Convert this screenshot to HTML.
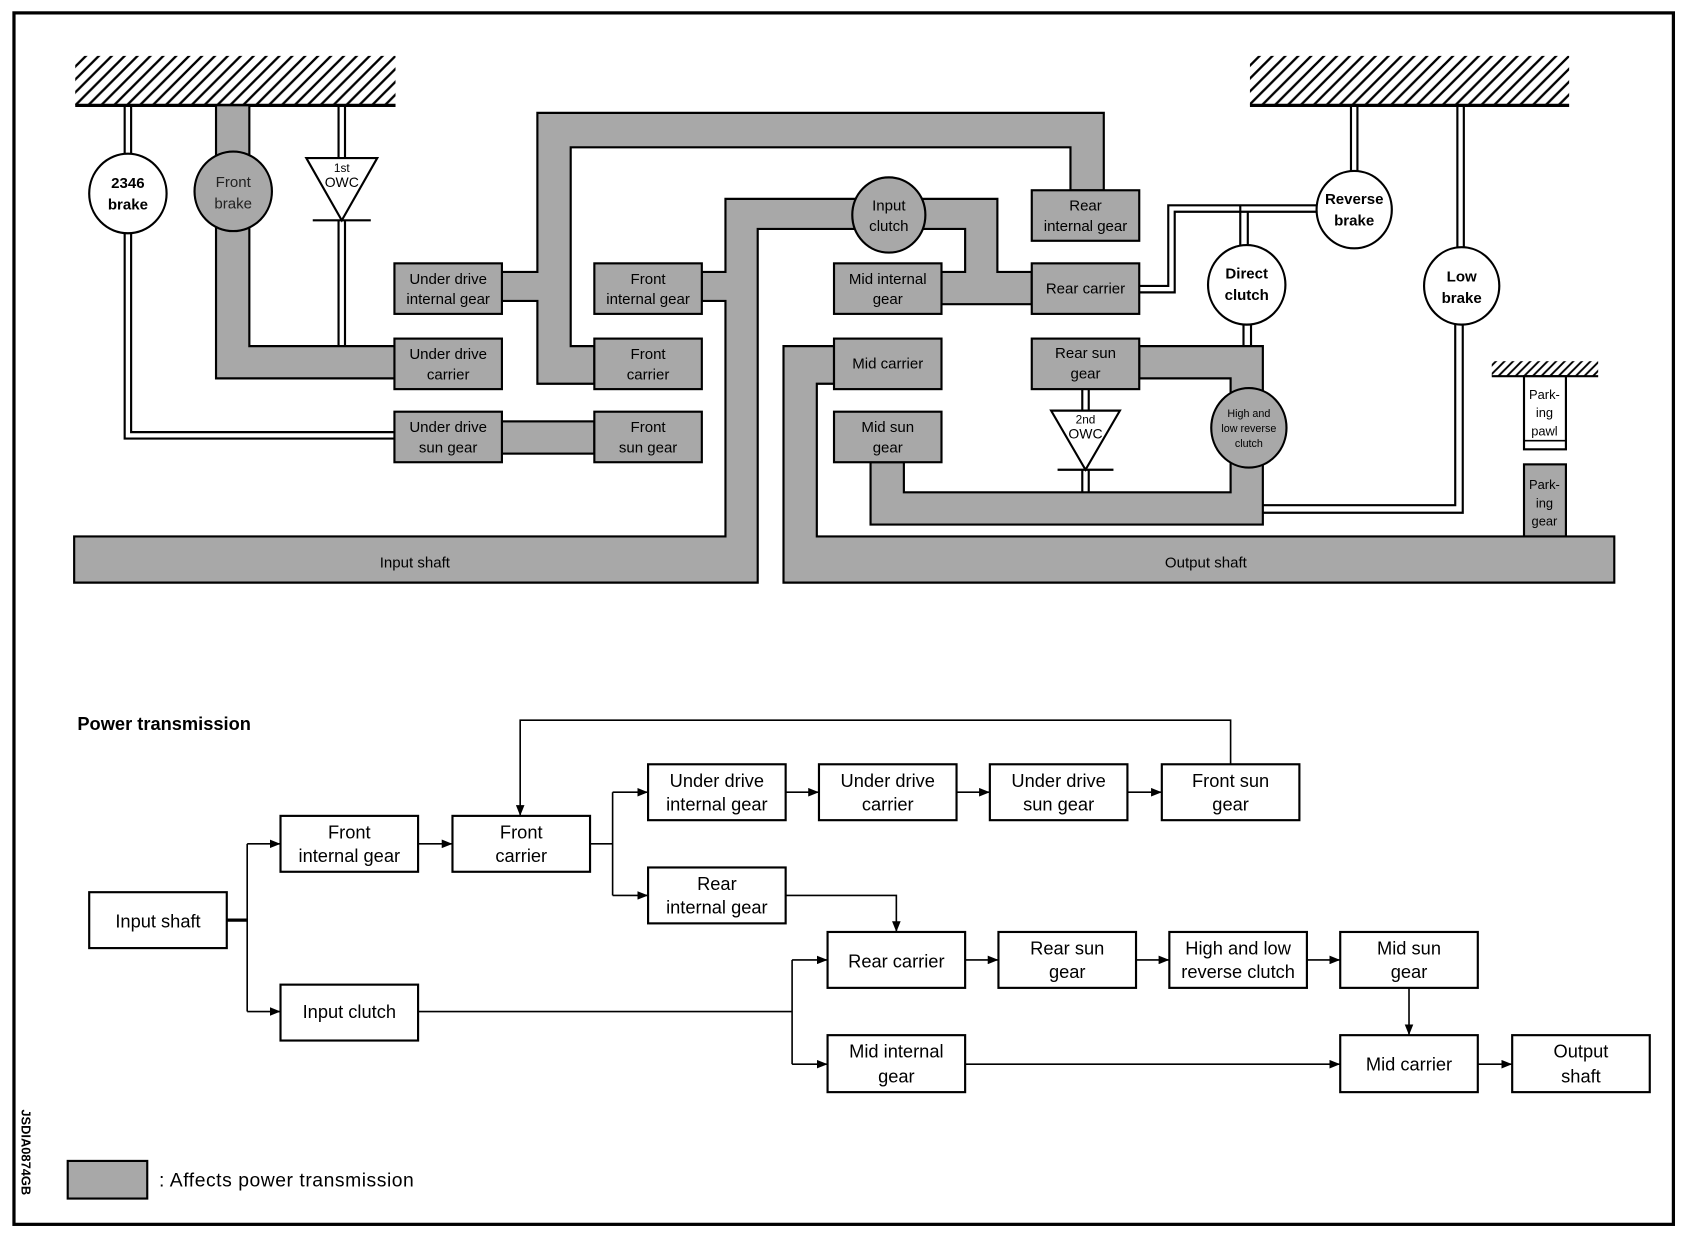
<!DOCTYPE html>
<html><head><meta charset="utf-8"><style>
html,body{margin:0;padding:0;background:#fff}
svg{display:block}
text{font-family:"Liberation Sans",sans-serif}
</style></head><body>
<svg width="1682" height="1248" viewBox="0 0 1565 1161" preserveAspectRatio="none" xmlns="http://www.w3.org/2000/svg">
<defs>
<pattern id="h" width="12" height="12" patternUnits="userSpaceOnUse">
<path d="M-3,3 L3,-3 M0,12 L12,0 M9,15 L15,9" stroke="#000" stroke-width="2.2"/>
</pattern>
<pattern id="hs" width="8" height="8" patternUnits="userSpaceOnUse">
<path d="M-2,2 L2,-2 M0,8 L8,0 M6,10 L10,6" stroke="#000" stroke-width="1.8"/>
</pattern>
<marker id="a" markerWidth="10" markerHeight="8" refX="10" refY="4" orient="auto" markerUnits="userSpaceOnUse">
<path d="M0,0 L10,4 L0,8 Z" fill="#000"/>
</marker>
</defs>
<rect x="13" y="12" width="1544" height="1127" fill="#fff" stroke="#000" stroke-width="3"/>

<rect x="70" y="52" width="298" height="46" fill="url(#h)"/>
<line x1="70" y1="98" x2="368" y2="98" stroke="#000" stroke-width="3"/>
<rect x="1163" y="52" width="297" height="46" fill="url(#h)"/>
<line x1="1163" y1="98" x2="1460" y2="98" stroke="#000" stroke-width="3"/>
<rect x="1388" y="336" width="99" height="14" fill="url(#hs)"/>
<line x1="1388" y1="350" x2="1487" y2="350" stroke="#000" stroke-width="2"/>

<g fill="#a8a8a8" stroke="#000" stroke-width="2">
<polygon points="201,98 232,98 232,322 368,322 368,352 201,352"/>
<polygon points="500,105 1027,105 1027,177 996,177 996,137 531,137 531,322 553,322 553,357 500,357 500,280 467,280 467,253 500,253"/>
<rect x="467" y="392" width="86" height="30"/>
<polygon points="69,499 675,499 675,280 653,280 653,253 675,253 675,185 928,185 928,253 960,253 960,283 876,283 876,253 898,253 898,213 705,213 705,542 69,542"/>
<polygon points="729,322 776,322 776,357 760,357 760,499 1502,499 1502,542 729,542"/>
<polygon points="1060,322 1175,322 1175,488 810,488 810,430 841,430 841,458 1145,458 1145,352 1060,352"/>
<rect x="367" y="245" width="100" height="47"/>
<rect x="367" y="315" width="100" height="47"/>
<rect x="367" y="383" width="100" height="47"/>
<rect x="553" y="245" width="100" height="47"/>
<rect x="553" y="315" width="100" height="47"/>
<rect x="553" y="383" width="100" height="47"/>
<rect x="776" y="245" width="100" height="47"/>
<rect x="776" y="315" width="100" height="47"/>
<rect x="776" y="383" width="100" height="47"/>
<rect x="960" y="177" width="100" height="47"/>
<rect x="960" y="245" width="100" height="47"/>
<rect x="960" y="315" width="100" height="47"/>
<rect x="1418" y="432" width="39" height="67"/>
<ellipse cx="217" cy="178" rx="36" ry="37"/>
<ellipse cx="827" cy="200" rx="34" ry="35"/>
<ellipse cx="1162" cy="398" rx="35" ry="37"/>
</g>

<g fill="none" stroke="#000" stroke-width="2">
<line x1="116" y1="98" x2="116" y2="143"/><line x1="122" y1="98" x2="122" y2="143"/>
<polyline points="116,216 116,408 368,408"/><polyline points="122,216 122,402 368,402"/>
<line x1="315" y1="98" x2="315" y2="147"/><line x1="321" y1="98" x2="321" y2="147"/>
<polygon points="285,147 351,147 318,205" fill="#fff"/>
<line x1="291" y1="205" x2="345" y2="205"/>
<line x1="315" y1="205" x2="315" y2="322"/><line x1="321" y1="205" x2="321" y2="322"/>
<line x1="1007" y1="362" x2="1007" y2="382"/><line x1="1013" y1="362" x2="1013" y2="382"/>
<polygon points="978,382 1042,382 1010,437" fill="#fff"/>
<line x1="984" y1="437" x2="1036" y2="437"/>
<line x1="1007" y1="437" x2="1007" y2="458"/><line x1="1013" y1="437" x2="1013" y2="458"/>
<polyline points="1060,266 1087,266 1087,191 1225,191"/>
<polyline points="1060,272 1093,272 1093,197 1225,197"/>
<line x1="1154" y1="191" x2="1154" y2="229"/><line x1="1161" y1="197" x2="1161" y2="229"/>
<line x1="1157" y1="301" x2="1157" y2="322"/><line x1="1164" y1="301" x2="1164" y2="322"/>
<line x1="1257" y1="98" x2="1257" y2="160"/><line x1="1263" y1="98" x2="1263" y2="160"/>
<line x1="1356" y1="98" x2="1356" y2="231"/><line x1="1362" y1="98" x2="1362" y2="231"/>
<polyline points="1354,301 1354,470 1175,470"/><polyline points="1361,301 1361,477 1175,477"/>
</g>
<rect x="1418" y="350" width="39" height="68" fill="#fff" stroke="#000" stroke-width="2"/>
<line x1="1418" y1="410" x2="1457" y2="410" stroke="#000" stroke-width="1.5"/>
<g fill="#fff" stroke="#000" stroke-width="2">
<ellipse cx="119" cy="180" rx="36" ry="37"/>
<ellipse cx="1160" cy="265" rx="36" ry="37"/>
<ellipse cx="1260" cy="195" rx="35" ry="36"/>
<ellipse cx="1360" cy="266" rx="35" ry="36"/>
</g>

<g font-size="14" text-anchor="middle" fill="#000">
<text x="119" y="175" font-weight="bold">2346</text><text x="119" y="195" font-weight="bold">brake</text>
<text x="217" y="174" fill="#222">Front</text><text x="217" y="194" fill="#222">brake</text>
<text x="318" y="160" font-size="11">1st</text><text x="318" y="174" font-size="13">OWC</text>
<text x="417" y="264">Under drive</text><text x="417" y="283">internal gear</text>
<text x="417" y="334">Under drive</text><text x="417" y="353">carrier</text>
<text x="417" y="402">Under drive</text><text x="417" y="421">sun gear</text>
<text x="603" y="264">Front</text><text x="603" y="283">internal gear</text>
<text x="603" y="334">Front</text><text x="603" y="353">carrier</text>
<text x="603" y="402">Front</text><text x="603" y="421">sun gear</text>
<text x="827" y="196">Input</text><text x="827" y="215">clutch</text>
<text x="826" y="264">Mid internal</text><text x="826" y="283">gear</text>
<text x="826" y="343">Mid carrier</text>
<text x="826" y="402">Mid sun</text><text x="826" y="421">gear</text>
<text x="1010" y="196">Rear</text><text x="1010" y="215">internal gear</text>
<text x="1010" y="273">Rear carrier</text>
<text x="1010" y="333">Rear sun</text><text x="1010" y="352">gear</text>
<text x="1010" y="394" font-size="11">2nd</text><text x="1010" y="408" font-size="13">OWC</text>
<text x="1162" y="388" font-size="10">High and</text><text x="1162" y="402" font-size="10">low reverse</text><text x="1162" y="416" font-size="10">clutch</text>
<text x="1160" y="259" font-weight="bold">Direct</text><text x="1160" y="279" font-weight="bold">clutch</text>
<text x="1260" y="190" font-weight="bold">Reverse</text><text x="1260" y="210" font-weight="bold">brake</text>
<text x="1360" y="262" font-weight="bold">Low</text><text x="1360" y="282" font-weight="bold">brake</text>
<text x="1437" y="371" font-size="12">Park-</text><text x="1437" y="388" font-size="12">ing</text><text x="1437" y="405" font-size="12">pawl</text>
<text x="1437" y="455" font-size="12">Park-</text><text x="1437" y="472" font-size="12">ing</text><text x="1437" y="489" font-size="12">gear</text>
<text x="386" y="528">Input shaft</text>
<text x="1122" y="528">Output shaft</text>
</g>

<text x="72" y="679" font-size="17" font-weight="bold">Power transmission</text>
<g fill="#fff" stroke="#000" stroke-width="2">
<rect x="83" y="830" width="128" height="52"/>
<rect x="261" y="759" width="128" height="52"/>
<rect x="421" y="759" width="128" height="52"/>
<rect x="261" y="916" width="128" height="52"/>
<rect x="603" y="711" width="128" height="52"/>
<rect x="762" y="711" width="128" height="52"/>
<rect x="921" y="711" width="128" height="52"/>
<rect x="1081" y="711" width="128" height="52"/>
<rect x="603" y="807" width="128" height="52"/>
<rect x="770" y="867" width="128" height="52"/>
<rect x="929" y="867" width="128" height="52"/>
<rect x="1088" y="867" width="128" height="52"/>
<rect x="1247" y="867" width="128" height="52"/>
<rect x="770" y="963" width="128" height="53"/>
<rect x="1247" y="963" width="128" height="53"/>
<rect x="1407" y="963" width="128" height="53"/>
</g>
<g fill="none" stroke="#000" stroke-width="1.5">
<line x1="211" y1="856" x2="230" y2="856" stroke-width="3"/>
<line x1="230" y1="785" x2="230" y2="941"/>
<line x1="230" y1="785" x2="261" y2="785" marker-end="url(#a)"/>
<line x1="230" y1="941" x2="261" y2="941" marker-end="url(#a)"/>
<line x1="389" y1="785" x2="421" y2="785" marker-end="url(#a)"/>
<polyline points="549,785 570,785"/>
<line x1="570" y1="737" x2="570" y2="833"/>
<line x1="570" y1="737" x2="603" y2="737" marker-end="url(#a)"/>
<line x1="570" y1="833" x2="603" y2="833" marker-end="url(#a)"/>
<line x1="731" y1="737" x2="762" y2="737" marker-end="url(#a)"/>
<line x1="890" y1="737" x2="921" y2="737" marker-end="url(#a)"/>
<line x1="1049" y1="737" x2="1081" y2="737" marker-end="url(#a)"/>
<polyline points="1145,711 1145,670 484,670 484,759" marker-end="url(#a)"/>
<polyline points="731,833 834,833 834,867" marker-end="url(#a)"/>
<line x1="389" y1="941" x2="737" y2="941"/>
<line x1="737" y1="893" x2="737" y2="990"/>
<line x1="737" y1="893" x2="770" y2="893" marker-end="url(#a)"/>
<line x1="737" y1="990" x2="770" y2="990" marker-end="url(#a)"/>
<line x1="898" y1="893" x2="929" y2="893" marker-end="url(#a)"/>
<line x1="1057" y1="893" x2="1088" y2="893" marker-end="url(#a)"/>
<line x1="1216" y1="893" x2="1247" y2="893" marker-end="url(#a)"/>
<line x1="1311" y1="919" x2="1311" y2="963" marker-end="url(#a)"/>
<line x1="898" y1="990" x2="1247" y2="990" marker-end="url(#a)"/>
<line x1="1375" y1="990" x2="1407" y2="990" marker-end="url(#a)"/>
</g>
<g font-size="17" text-anchor="middle">
<text x="147" y="863">Input shaft</text>
<text x="325" y="780">Front</text><text x="325" y="802">internal gear</text>
<text x="485" y="780">Front</text><text x="485" y="802">carrier</text>
<text x="325" y="947">Input clutch</text>
<text x="667" y="732">Under drive</text><text x="667" y="754">internal gear</text>
<text x="826" y="732">Under drive</text><text x="826" y="754">carrier</text>
<text x="985" y="732">Under drive</text><text x="985" y="754">sun gear</text>
<text x="1145" y="732">Front sun</text><text x="1145" y="754">gear</text>
<text x="667" y="828">Rear</text><text x="667" y="850">internal gear</text>
<text x="834" y="900">Rear carrier</text>
<text x="993" y="888">Rear sun</text><text x="993" y="910">gear</text>
<text x="1152" y="888">High and low</text><text x="1152" y="910">reverse clutch</text>
<text x="1311" y="888">Mid sun</text><text x="1311" y="910">gear</text>
<text x="834" y="984">Mid internal</text><text x="834" y="1007">gear</text>
<text x="1311" y="996">Mid carrier</text>
<text x="1471" y="984">Output</text><text x="1471" y="1007">shaft</text>
</g>
<rect x="63" y="1080" width="74" height="35" fill="#a8a8a8" stroke="#000" stroke-width="2"/>
<text x="148" y="1104" font-size="18" letter-spacing="0.5">: Affects power transmission</text>
<text x="0" y="0" font-size="12" font-weight="bold" transform="translate(20,1032) rotate(90)">JSDIA0874GB</text>
</svg>
</body></html>
